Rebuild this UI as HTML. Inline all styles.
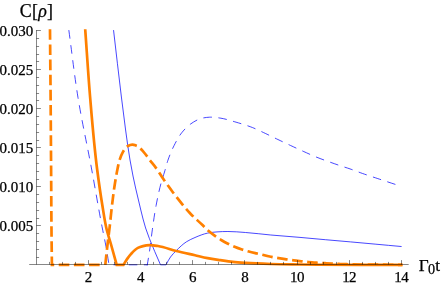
<!DOCTYPE html>
<html><head><meta charset="utf-8"><title>plot</title>
<style>
html,body{margin:0;padding:0;background:#fff;}
body{width:441px;height:285px;overflow:hidden;}
svg{display:block;will-change:transform;}
text{font-family:"Liberation Serif",serif;fill:#000;stroke:#000;stroke-width:0.25px;}
.tl{font-size:15px;}
.al{font-size:17.9px;}
.ax{stroke:#000;stroke-opacity:0.47;stroke-width:1;fill:none;}
.c{fill:none;stroke-linecap:square;stroke-linejoin:miter;}
</style></head><body>
<svg width="441" height="285" viewBox="0 0 441 285">
<rect width="441" height="285" fill="#fff"/>
<path class="c" d="M68.90 30.60 C71.90 52.73 74.34 74.96 77.90 97.00 C81.80 121.11 87.15 144.98 91.60 169.00 C95.24 188.65 98.46 208.38 102.30 228.00 C103.47 234.00 104.80 239.98 105.90 246.00 C107.04 252.25 107.97 258.53 109.00 264.80 L147.30 264.80" stroke="#0000ff" stroke-width="0.72" stroke-dasharray="7.6 7.57"/>
<path class="c" d="M147.30 264.80 C147.97 260.77 148.68 256.74 149.30 252.70 C150.46 245.16 151.22 237.55 152.30 230.00 C153.47 221.82 154.55 213.61 156.10 205.50 C157.72 197.01 159.45 188.49 161.90 180.20 C162.71 177.45 163.66 174.74 164.50 172.00 C165.66 168.22 166.52 164.34 167.80 160.60 C169.56 155.45 171.63 150.35 174.10 145.50 C176.33 141.11 178.64 136.62 181.70 132.80 C184.29 129.57 187.26 126.43 190.60 124.00 C193.66 121.78 197.11 119.72 200.70 118.60 C203.50 117.72 206.56 117.35 209.50 117.20 C213.28 117.01 217.15 117.60 220.90 118.20 C226.05 119.03 231.07 120.73 236.10 122.20 C241.65 123.83 247.23 125.47 252.60 127.60 C256.92 129.32 261.09 131.42 265.30 133.40 C269.52 135.39 273.69 137.49 277.90 139.50 C282.12 141.52 286.36 143.52 290.60 145.50 C294.79 147.45 298.98 149.40 303.20 151.30 C307.42 153.20 311.62 155.16 315.90 156.90 C320.05 158.59 324.28 160.08 328.50 161.60 C332.68 163.11 336.88 164.59 341.10 166.00 C344.06 166.99 347.05 167.89 350.00 168.90 C354.23 170.35 358.38 172.02 362.60 173.50 C367.64 175.27 372.73 176.91 377.80 178.60 C383.86 180.62 389.91 182.67 396.00 184.60 C397.70 185.14 399.40 185.67 401.10 186.20" stroke="#0000ff" stroke-width="0.72" stroke-dasharray="7.55 7.53" stroke-dashoffset="1.02"/>
<path class="c" d="M113.60 30.60 C116.20 52.73 118.66 74.88 121.40 97.00 C122.76 108.00 124.09 119.01 125.60 130.00 C126.98 140.01 128.28 150.04 130.00 160.00 C130.93 165.35 131.92 170.68 133.00 176.00 C133.82 180.01 134.71 184.01 135.60 188.00 C137.24 195.35 138.95 202.70 140.80 210.00 C142.32 216.02 143.69 222.10 145.60 228.00 C146.72 231.47 148.02 234.89 149.30 238.30 C152.68 247.27 156.77 255.97 160.50 264.80 L166.00 264.80 C167.50 262.20 168.74 259.41 170.50 257.00 C172.19 254.69 174.27 252.64 176.30 250.60 C179.50 247.39 182.80 244.11 186.60 241.70 C189.22 240.04 192.14 238.75 195.00 237.50 C199.07 235.73 203.28 234.04 207.60 233.10 C210.67 232.43 213.86 232.17 217.00 231.90 C220.62 231.59 224.27 231.50 227.90 231.50 C233.80 231.49 239.71 232.06 245.60 232.50 C254.02 233.12 262.39 234.23 270.80 235.00 C280.53 235.89 290.27 236.55 300.00 237.40 C308.44 238.13 316.87 238.95 325.30 239.70 C333.73 240.45 342.17 241.15 350.60 241.90 C359.03 242.65 367.47 243.43 375.90 244.20 C384.30 244.97 392.70 245.73 401.10 246.50" stroke="#0000ff" stroke-width="0.72"/>
<path class="c" d="M50.00 30.60 C50.20 52.73 50.42 74.87 50.60 97.00 C50.79 121.00 50.93 145.00 51.10 169.00 C51.27 193.00 51.33 217.00 51.60 241.00 C51.69 248.93 51.80 256.87 51.90 264.80 L105.30 264.80" stroke="#ff8000" stroke-width="2.7" stroke-dasharray="7.9 7.25"/>
<path class="c" d="M105.30 264.80 C105.73 260.77 106.15 256.73 106.60 252.70 C107.05 248.63 107.52 244.56 108.00 240.50 C108.48 236.43 109.02 232.37 109.50 228.30 C110.40 220.71 111.08 213.09 112.00 205.50 C112.91 197.99 113.80 190.47 115.00 183.00 C115.75 178.32 116.54 173.64 117.50 169.00 C118.06 166.32 118.51 163.61 119.30 161.00 C120.17 158.13 121.11 155.18 122.60 152.60 C123.90 150.33 125.26 147.65 127.40 146.30 C128.80 145.41 130.66 144.62 132.30 144.60 C133.89 144.58 135.63 145.37 137.10 146.10 C139.61 147.34 141.56 149.72 143.50 151.80 C145.68 154.14 147.34 156.95 149.30 159.50 C151.63 162.53 154.15 165.41 156.40 168.50 C158.99 172.05 161.20 175.88 163.70 179.50 C167.92 185.63 172.31 191.65 176.90 197.50 C180.99 202.72 185.06 207.98 189.60 212.80 C193.57 217.02 198.02 220.78 202.20 224.80 C204.34 226.86 206.36 229.06 208.60 231.00 C212.49 234.38 216.79 237.34 221.20 240.00 C225.13 242.37 229.28 244.49 233.50 246.30 C237.43 247.98 241.51 249.36 245.60 250.60 C249.74 251.86 253.99 252.78 258.20 253.80 C262.39 254.81 266.58 255.85 270.80 256.70 C275.01 257.55 279.26 258.23 283.50 258.90 C287.69 259.56 291.89 260.17 296.10 260.70 C299.06 261.07 302.03 261.39 305.00 261.70 C307.33 261.95 309.66 262.20 312.00 262.40 C316.32 262.77 320.67 262.95 325.00 263.20 C330.00 263.49 335.00 263.79 340.00 264.00 C346.66 264.27 353.33 264.37 360.00 264.50 C373.70 264.76 387.40 264.70 401.10 264.80" stroke="#ff8000" stroke-width="2.7" stroke-dasharray="7.9 7.25" stroke-dashoffset="13.91"/>
<path class="c" d="M85.30 30.60 C86.90 52.73 88.24 74.89 90.10 97.00 C92.12 121.03 94.03 145.09 97.10 169.00 C98.65 181.02 100.32 193.04 102.30 205.00 C103.68 213.35 104.74 221.80 106.80 230.00 C107.98 234.71 109.56 239.33 110.90 244.00 C112.89 250.92 114.77 257.87 116.70 264.80 L123.50 264.80 C124.73 262.83 125.86 260.80 127.20 258.90 C128.42 257.17 129.68 255.46 131.10 253.90 C133.13 251.67 135.27 249.28 137.90 247.90 C139.47 247.08 141.26 246.55 143.00 246.10 C145.14 245.54 147.39 245.18 149.60 245.10 C152.39 245.00 155.23 245.56 158.00 246.00 C164.23 246.98 170.17 249.46 176.30 251.00 C182.50 252.56 188.77 253.87 195.00 255.30 C199.20 256.27 203.37 257.38 207.60 258.20 C211.80 259.01 216.06 259.58 220.30 260.20 C224.49 260.81 228.69 261.45 232.90 261.90 C237.12 262.35 241.36 262.62 245.60 262.90 C253.99 263.46 262.40 263.74 270.80 264.00 C280.53 264.31 290.27 264.36 300.00 264.50 C333.70 264.97 367.40 264.70 401.10 264.80" stroke="#ff8000" stroke-width="2.7"/>
<path class="ax" d="M29.2 264.5 H408.7 M36.5 264.5 V30 M49.50 264.50 V261.90 M62.50 264.50 V261.90 M75.50 264.50 V261.90 M88.50 264.50 V260.10 M101.50 264.50 V261.90 M114.50 264.50 V261.90 M127.50 264.50 V261.90 M140.50 264.50 V260.10 M153.50 264.50 V261.90 M166.50 264.50 V261.90 M179.50 264.50 V261.90 M192.50 264.50 V260.10 M205.50 264.50 V261.90 M218.50 264.50 V261.90 M231.50 264.50 V261.90 M244.50 264.50 V260.10 M257.50 264.50 V261.90 M270.50 264.50 V261.90 M283.50 264.50 V261.90 M297.50 264.50 V260.10 M310.50 264.50 V261.90 M323.50 264.50 V261.90 M336.50 264.50 V261.90 M349.50 264.50 V260.10 M362.50 264.50 V261.90 M375.50 264.50 V261.90 M388.50 264.50 V261.90 M401.50 264.50 V260.10 M36.50 257.50 H39.10 M36.50 249.50 H39.10 M36.50 241.50 H39.10 M36.50 233.50 H39.10 M36.50 225.50 H40.90 M36.50 218.50 H39.10 M36.50 210.50 H39.10 M36.50 202.50 H39.10 M36.50 194.50 H39.10 M36.50 186.50 H40.90 M36.50 179.50 H39.10 M36.50 171.50 H39.10 M36.50 163.50 H39.10 M36.50 155.50 H39.10 M36.50 147.50 H40.90 M36.50 140.50 H39.10 M36.50 132.50 H39.10 M36.50 124.50 H39.10 M36.50 116.50 H39.10 M36.50 108.50 H40.90 M36.50 100.50 H39.10 M36.50 93.50 H39.10 M36.50 85.50 H39.10 M36.50 77.50 H39.10 M36.50 69.50 H40.90 M36.50 61.50 H39.10 M36.50 54.50 H39.10 M36.50 46.50 H39.10 M36.50 38.50 H39.10 M36.50 30.50 H40.90"/>
<text x="88.60" y="282.1" text-anchor="middle" class="tl">2</text>
<text x="140.70" y="282.1" text-anchor="middle" class="tl">4</text>
<text x="192.80" y="282.1" text-anchor="middle" class="tl">6</text>
<text x="244.90" y="282.1" text-anchor="middle" class="tl">8</text>
<text x="297.00" y="282.1" text-anchor="middle" class="tl" letter-spacing="-0.6">10</text>
<text x="349.10" y="282.1" text-anchor="middle" class="tl" letter-spacing="-0.6">12</text>
<text x="401.20" y="282.1" text-anchor="middle" class="tl" letter-spacing="-0.6">14</text>
<text x="33.2" y="230.70" text-anchor="end" class="tl">0.005</text>
<text x="33.2" y="191.70" text-anchor="end" class="tl">0.010</text>
<text x="33.2" y="152.70" text-anchor="end" class="tl">0.015</text>
<text x="33.2" y="113.70" text-anchor="end" class="tl">0.020</text>
<text x="33.2" y="74.70" text-anchor="end" class="tl">0.025</text>
<text x="33.2" y="35.70" text-anchor="end" class="tl">0.030</text>

<text x="36.5" y="16.5" text-anchor="middle" class="al" letter-spacing="0.3">C[<tspan font-style="italic">ρ</tspan>]</text>
<text x="418.7" y="270.7" class="al" style="font-size:17.2px">Γ<tspan x="428.0" y="273.7" font-size="14.2px">0</tspan><tspan x="435.2" y="270.7">t</tspan></text>
</svg>
</body></html>
